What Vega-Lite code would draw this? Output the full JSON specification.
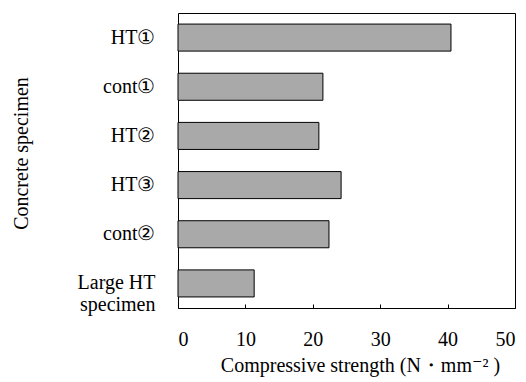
{
  "$schema": "https://vega.github.io/schema/vega-lite/v6.json",
  "width": 337,
  "height": 295,
  "autosize": {"type": "none"},
  "padding": {"left": 178, "top": 13, "right": 11, "bottom": 74},
  "background": "white",
  "config": {
    "view": {"stroke": "black", "strokeWidth": 1},
    "font": "Liberation Serif",
    "axis": {
      "labelFont": "Liberation Serif, DejaVu Serif",
      "titleFont": "Liberation Serif, DejaVu Serif",
      "labelFontSize": 20,
      "titleFontSize": 20,
      "labelColor": "black",
      "titleColor": "black",
      "titleFontWeight": "normal",
      "domain": false,
      "grid": false
    }
  },
  "data": {
    "values": [
      {"specimen": "HT①", "strength": 40.5},
      {"specimen": "cont①", "strength": 21.5},
      {"specimen": "HT②", "strength": 20.9},
      {"specimen": "HT③", "strength": 24.2},
      {"specimen": "cont②", "strength": 22.4},
      {"specimen": "Large HT specimen", "strength": 11.3}
    ]
  },
  "mark": {"type": "bar", "fill": "#a9a9a9", "stroke": "black", "strokeWidth": 1},
  "encoding": {
    "y": {
      "field": "specimen",
      "type": "nominal",
      "sort": null,
      "scale": {"paddingInner": 0.45, "paddingOuter": 0.225},
      "axis": {
        "title": "Concrete specimen",
        "ticks": false,
        "labelPadding": 23,
        "titlePadding": 46,
        "titleY": 140,
        "labelExpr": "datum.value == 'Large HT specimen' ? ['Large HT', 'specimen'] : datum.value",
        "labelLineHeight": 22
      }
    },
    "x": {
      "field": "strength",
      "type": "quantitative",
      "scale": {"domain": [0, 50], "nice": false},
      "axis": {
        "title": "Compressive strength (N・mm⁻² )",
        "values": [0, 10, 20, 30, 40, 50],
        "tickSize": -4,
        "tickColor": "black",
        "labelPadding": 25,
        "titlePadding": 6,
        "titleX": 182
      }
    }
  }
}
